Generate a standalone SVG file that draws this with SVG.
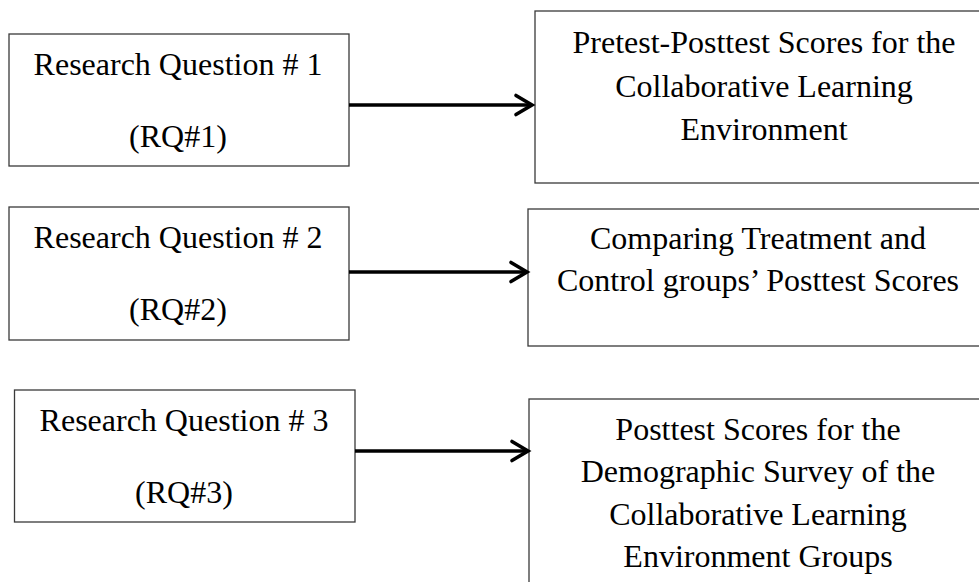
<svg xmlns="http://www.w3.org/2000/svg" width="979" height="582" viewBox="0 0 979 582">
<style>
.box{fill:#fff;stroke:#3a3a3a;stroke-width:1.3}
.t{font-family:"Liberation Serif","Times New Roman",serif;font-size:32px;fill:#000;text-anchor:middle}
.arr{fill:none;stroke:#000;stroke-width:3.6;stroke-linecap:butt}
.head{fill:none;stroke:#000;stroke-width:3.6;stroke-linecap:round;stroke-linejoin:miter}
</style>
<rect width="979" height="582" fill="#fff"/>
<g id="rq1">
<rect class="box" x="9" y="34" width="340" height="132"/>
<text class="t" x="178" y="75">Research Question # 1</text>
<text class="t" x="178" y="147">(RQ#1)</text>
</g>
<g id="out1">
<rect class="box" x="535" y="11" width="460" height="172"/>
<text class="t" x="764" y="53">Pretest-Posttest Scores for the</text>
<text class="t" x="764" y="96.5">Collaborative Learning</text>
<text class="t" x="764" y="140">Environment</text>
</g>
<g id="rq2">
<rect class="box" x="9" y="207" width="340" height="133"/>
<text class="t" x="178" y="248">Research Question # 2</text>
<text class="t" x="178" y="320">(RQ#2)</text>
</g>
<g id="out2">
<rect class="box" x="528" y="209" width="470" height="137"/>
<text class="t" x="758" y="249">Comparing Treatment and</text>
<text class="t" x="758" y="291">Control groups’ Posttest Scores</text>
</g>
<g id="rq3">
<rect class="box" x="14.5" y="390" width="340.5" height="132"/>
<text class="t" x="184" y="431">Research Question # 3</text>
<text class="t" x="184" y="503">(RQ#3)</text>
</g>
<g id="out3">
<rect class="box" x="529" y="399" width="470" height="200"/>
<text class="t" x="758" y="440">Posttest Scores for the</text>
<text class="t" x="758" y="482">Demographic Survey of the</text>
<text class="t" x="758" y="524.5">Collaborative Learning</text>
<text class="t" x="758" y="567">Environment Groups</text>
</g>
<g id="connectors">
<line class="arr" x1="349" y1="105" x2="531" y2="105"/>
<polyline class="head" points="516,95.5 532,105 516,114.5"/>
<line class="arr" x1="349" y1="272" x2="526" y2="272"/>
<polyline class="head" points="511,262.5 527,272 511,281.5"/>
<line class="arr" x1="355" y1="451" x2="527" y2="451"/>
<polyline class="head" points="512,441.5 528,451 512,460.5"/>
</g>
</svg>
